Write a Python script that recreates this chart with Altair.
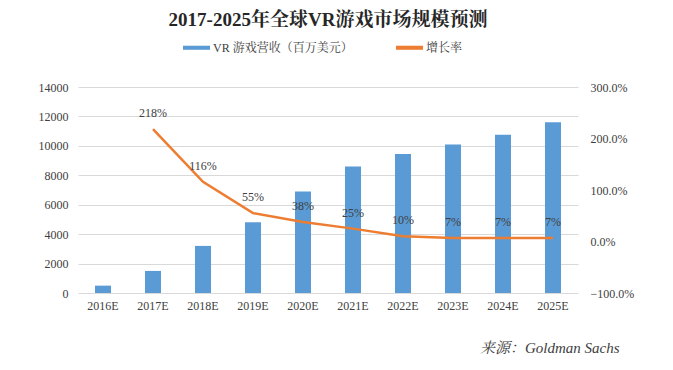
import altair as alt
import pandas as pd

years = ["2016E", "2017E", "2018E", "2019E", "2020E", "2021E", "2022E", "2023E", "2024E", "2025E"]
revenue = [500, 1500, 3200, 4800, 6900, 8600, 9450, 10100, 10750, 11600]
growth = [None, 2.18, 1.16, 0.55, 0.38, 0.25, 0.10, 0.07, 0.07, 0.07]
growth_labels = ["", "218%", "116%", "55%", "38%", "25%", "10%", "7%", "7%", "7%"]
series_names = ["VR 游戏营收（百万美元）", "增长率"]
series_colors = ["#5B9BD5", "#ED7D31"]
left_ticks = [0, 2000, 4000, 6000, 8000, 10000, 12000, 14000]
right_ticks = [-1, 0, 1, 2, 3]
source_text = ["来源：Goldman Sachs"]

df = pd.DataFrame({"year": years, "revenue": revenue, "growth": growth, "glabel": growth_labels})

SERIF = "'Liberation Serif', 'Noto Serif CJK SC', 'Noto Sans CJK SC', serif"
W, H = 500, 206
LBL = "#404040"

x = alt.X("year:N", sort=years, title=None,
          scale=alt.Scale(paddingInner=0.68, paddingOuter=0.34),
          axis=alt.Axis(labelAngle=0, domain=False, ticks=False, labelPadding=7,
                        labelFont=SERIF, labelFontSize=12, labelColor=LBL))

bars = alt.Chart(df).transform_calculate(series=f"'{series_names[0]}'").mark_bar(size=16).encode(
    x=x,
    y=alt.Y("revenue:Q", title=None,
            scale=alt.Scale(domain=[0, 14000]),
            axis=alt.Axis(values=left_ticks, format="d", domain=False, ticks=False, labelPadding=10,
                          gridColor="#d9d9d9", labelFont=SERIF, labelFontSize=12,
                          labelColor=LBL)),
    color=alt.Color("series:N", title=None,
                    scale=alt.Scale(domain=series_names, range=series_colors),
                    legend=alt.Legend(orient="none", direction="horizontal",
                                      legendX=105, legendY=-53,
                                      symbolType="M-1,-0.15H1V0.15H-1Z", symbolSize=729,
                                      symbolStrokeWidth=0, labelOffset=3, columnPadding=43,
                                      labelFont=SERIF, labelFontSize=12, labelColor=LBL)),
)

yr = alt.Y("growth:Q", title=None,
           scale=alt.Scale(domain=[-1, 3]),
           axis=alt.Axis(values=right_ticks, format=".1%", orient="right", grid=False,
                         domain=False, ticks=False, labelPadding=12,
                         labelFont=SERIF, labelFontSize=12, labelColor=LBL))

line = alt.Chart(df).transform_filter("isValid(datum.growth)").mark_line(
    color=series_colors[1], strokeWidth=2.5).encode(x=x, y=yr)

labels = alt.Chart(df).transform_filter("isValid(datum.growth)").mark_text(
    dy=-16, font=SERIF, fontSize=12, color=LBL).encode(
    x=x, y=alt.Y("growth:Q", scale=alt.Scale(domain=[-1, 3])), text="glabel:N")

src_df = pd.DataFrame({"t": source_text})
source = alt.Chart(src_df).mark_text(
    align="left", baseline="middle", font=SERIF, fontSize=15, fontStyle="italic",
    color=LBL).encode(x=alt.value(402), y=alt.value(261), text="t:N")

chart = alt.layer(bars, alt.layer(line, labels), source).resolve_scale(y="independent").properties(
    width=W, height=H,
    autosize=alt.AutoSizeParams(type="none"),
    padding={"left": 70, "top": 79, "right": 87, "bottom": 69},
    title=alt.Title("2017-2025年全球VR游戏市场规模预测", font=SERIF, fontSize=19,
                    fontWeight="bold", color="#262626", anchor="middle", offset=4),
).configure_view(stroke=None)

chart.save("out.html", embed_options={"renderer": "svg", "actions": False})
